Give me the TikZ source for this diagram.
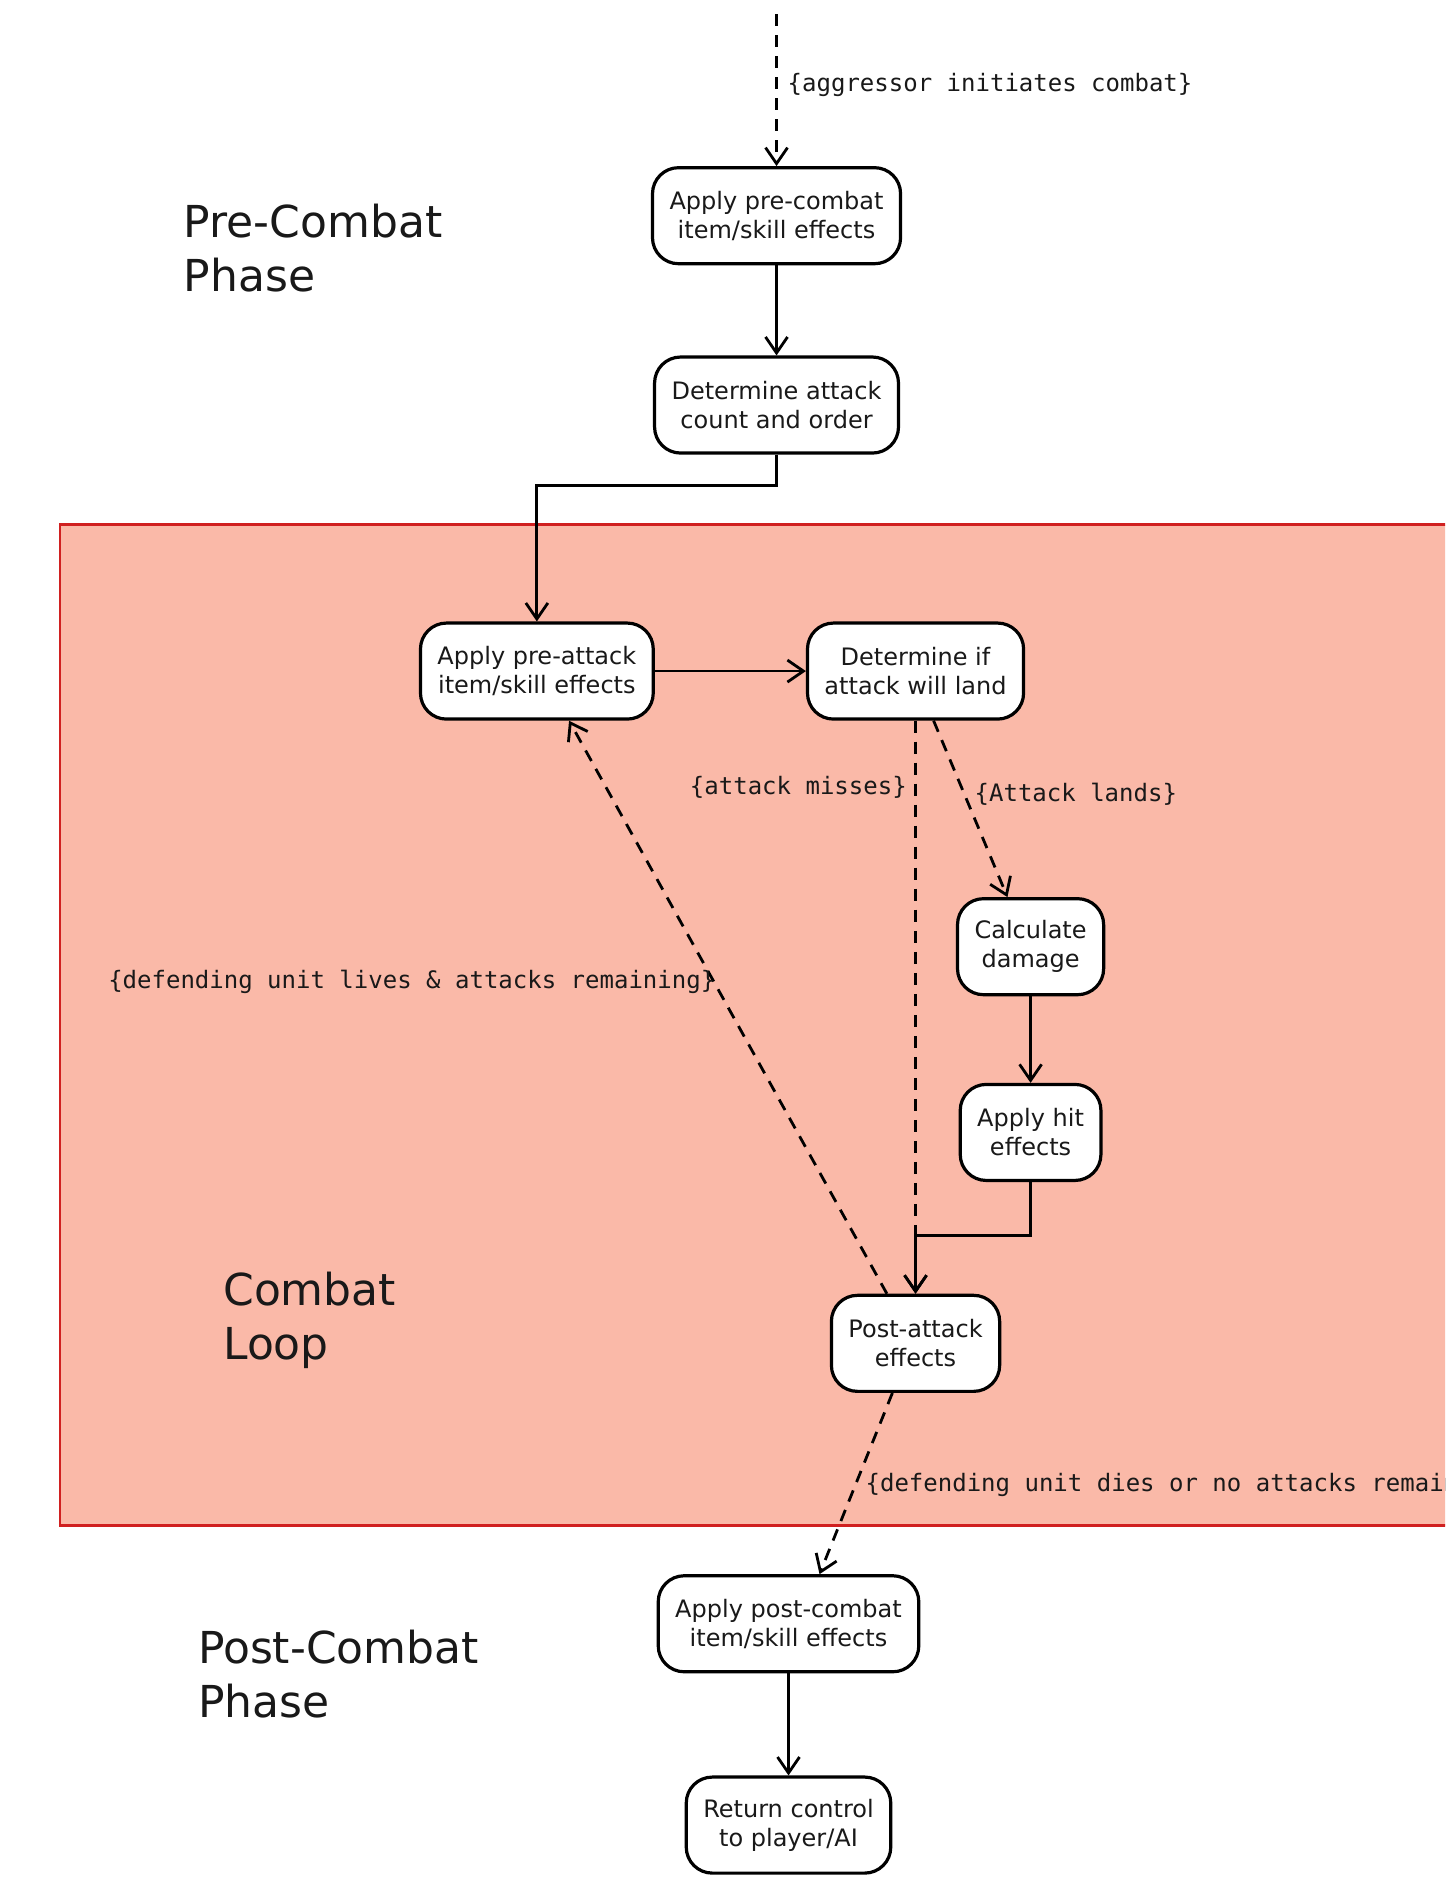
\documentclass[tikz,border=0pt]{standalone}
\usepackage{fontspec}
\setmainfont{DejaVu Sans}
\setmonofont{DejaVu Sans Mono}
\usetikzlibrary{arrows.meta}
\definecolor{loopfill}{RGB}{250,185,168}
\definecolor{loopedge}{RGB}{208,32,32}
\definecolor{inkc}{RGB}{25,25,25}

\begin{document}
\begin{tikzpicture}[x=0.599pt,y=-0.599pt,
  act/.style={draw=black, line width=1.6pt, fill=white, rounded corners=13pt,
    align=center, font=\fontsize{12}{14.4}\selectfont, minimum height=48pt,
    inner xsep=8.5pt, text=inkc},
  flow/.style={line width=1.4pt, -{Straight Barb[length=8pt,width=11pt]}},
  guard/.style={flow, dash pattern=on 6pt off 4.5pt},
  cond/.style={font=\ttfamily\fontsize{12}{14}\selectfont, inner sep=0pt, text=inkc},
  phase/.style={font=\fontsize{22}{27}\selectfont, align=left, inner sep=0pt,
    anchor=west, text=inkc}
]
\useasboundingbox (0,0) rectangle (1206,1568);
\clip (0,0) rectangle (1206,1568);
\fill[white] (0,0) rectangle (1206,1568);

% combat loop region
\draw[loopedge, fill=loopfill, line width=1.4pt] (50,438) rectangle (1240,1273);

% phase titles
\node[phase] (prePhase)  at (153,207)  {Pre-Combat\\Phase};
\node[phase] (loopPhase) at (186,1102) {Combat\\Loop};
\node[phase] (postPhase) at (165,1397) {Post-Combat\\Phase};

% activities
\node[act] (A) at (648,180)  {Apply pre-combat\\item/skill effects};
\node[act] (B) at (648,338)  {Determine attack\\count and order};
\node[act] (C) at (448,560)  {Apply pre-attack\\item/skill effects};
\node[act] (D) at (764,560)  {Determine if\\attack will land};
\node[act] (E) at (860,790)  {Calculate\\damage};
\node[act] (F) at (860,945)  {Apply hit\\effects};
\node[act] (G) at (764,1121) {Post-attack\\effects};
\node[act] (H) at (658,1355) {Apply post-combat\\item/skill effects};
\node[act] (I) at (658,1523) {Return control\\to player/AI};

% helper points
\coordinate (start) at (648,12);
\coordinate (bendBC) at (548,405);
\coordinate (mergeFG) at (764,1031);

% connectors
\draw[guard] (start) -- (A.north);
\draw[flow] (A) -- (B);
\draw[flow] (B.south) |- (bendBC) -| (C.north);
\draw[flow] (C) -- (D);
\draw[guard] (D.south) -- (G.north);
\draw[guard] (D.-70) -- (E.115);
\draw[flow] (E) -- (F);
\draw[flow] (F.south) |- (mergeFG) -- (G.north);
\draw[guard] (G.120) -- (C.-57);
\draw[guard] (G.-115) -- (H.58);
\draw[flow] (H) -- (I);

% guard conditions
\node[cond, anchor=west] (lblStart) at (657,71)  {\{aggressor initiates combat\}};
\node[cond, anchor=east] (lblMiss)  at (757,657) {\{attack misses\}};
\node[cond, anchor=west] (lblLand)  at (813,663) {\{Attack lands\}};
\node[cond, anchor=west] (lblLoop)  at (90,819)  {\{defending unit lives \& attacks remaining\}};
\node[cond, anchor=west] (lblEnd)   at (722,1239) {\{defending unit dies or no attacks remaining\}};
\end{tikzpicture}
\end{document}
